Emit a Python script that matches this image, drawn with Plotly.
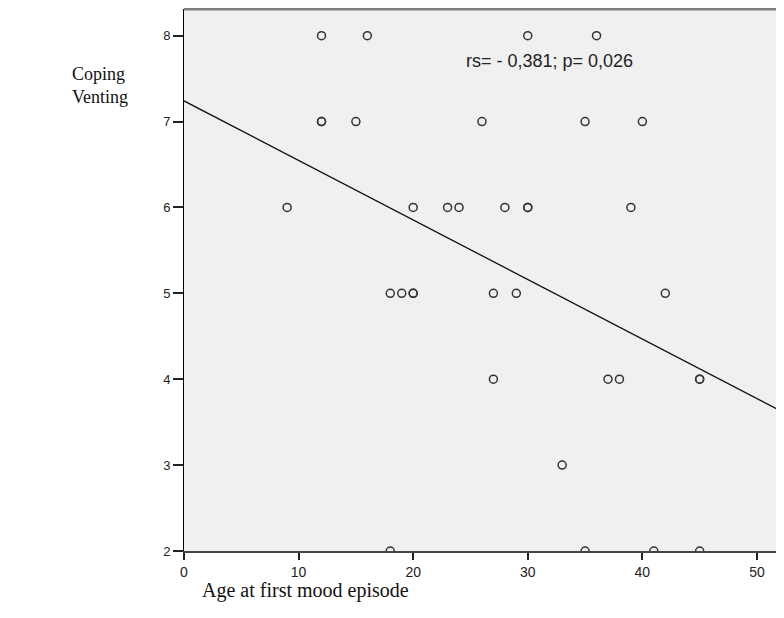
import numpy as np
import plotly.graph_objects as go

# Data
age_first_episode = [12, 16, 30, 36,
                     12, 12, 15, 26, 35, 40,
                     9, 20, 23, 24, 28, 30, 30, 39,
                     18, 19, 20, 20, 27, 29, 42,
                     27, 37, 38, 45, 45,
                     33,
                     18, 35, 41, 45]
coping_venting = [8, 8, 8, 8,
                  7, 7, 7, 7, 7, 7,
                  6, 6, 6, 6, 6, 6, 6, 6,
                  5, 5, 5, 5, 5, 5, 5,
                  4, 4, 4, 4, 4,
                  3,
                  2, 2, 2, 2]

fit_intercept = 7.24
fit_slope = -0.0693

x_range = [0, 52.36]
y_range = [2, 8.31]
x_ticks = [0, 10, 20, 30, 40, 50]
y_ticks = [2, 3, 4, 5, 6, 7, 8]
stat_text = "rs= - 0,381; p= 0,026"

fit_x = np.array(x_range)
fit_y = fit_intercept + fit_slope * fit_x

fig = go.Figure()
fig.add_trace(go.Scatter(
    x=fit_x, y=fit_y, mode="lines",
    line=dict(color="#111111", width=1.3),
    showlegend=False, hoverinfo="skip"))
fig.add_trace(go.Scatter(
    x=age_first_episode, y=coping_venting, mode="markers",
    marker=dict(symbol="circle-open", size=8, color="#333333",
                line=dict(width=1.5, color="#333333")),
    showlegend=False))

fig.add_annotation(x=31.9, y=7.70, xref="x", yref="y", text=stat_text,
                   showarrow=False, xanchor="center", yanchor="middle",
                   font=dict(family="Liberation Sans", size=18, color="#222222"))
fig.add_annotation(x=-0.19, y=0.858, xref="paper", yref="paper",
                   text="Coping<br>Venting", showarrow=False,
                   xanchor="left", yanchor="middle", align="left",
                   font=dict(family="Liberation Serif", size=18, color="#111111"))
fig.add_annotation(x=0.0267, y=-0.0738, xref="paper", yref="paper",
                   text="Age at first mood episode", showarrow=False,
                   xanchor="left", yanchor="middle",
                   font=dict(family="Liberation Serif", size=20, color="#111111"))
fig.add_shape(type="line", xref="paper", yref="paper", x0=0, x1=1, y0=1, y1=1,
              line=dict(color="#808080", width=3))

# page body has an 8px margin; compensate so the plot sits where the reference has it
fig.update_layout(
    width=776, height=594,
    margin=dict(l=176, r=0, t=1, b=51),
    paper_bgcolor="white", plot_bgcolor="#f0f0f0",
    xaxis=dict(range=x_range, tickvals=x_ticks, showgrid=False, zeroline=False,
               showline=True, linecolor="#444444", linewidth=2,
               ticks="outside", ticklen=7, tickwidth=2, tickcolor="#222222",
               tickfont=dict(family="Liberation Sans", size=14, color="#222222")),
    yaxis=dict(range=y_range, tickvals=y_ticks, showgrid=False, zeroline=False,
               showline=True, linecolor="#000000", linewidth=1,
               ticks="outside", ticklen=10, tickwidth=1.5, tickcolor="#222222",
               tickfont=dict(family="Liberation Sans", size=13, color="#222222")),
)

fig.write_html("out.html")
